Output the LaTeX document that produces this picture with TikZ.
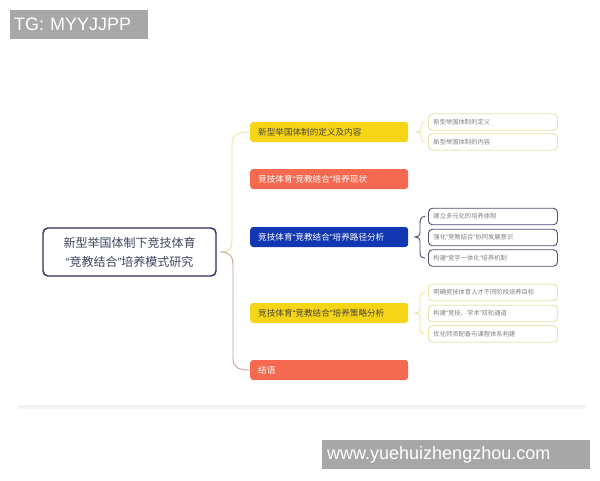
\documentclass[tikz,border=0pt]{standalone}
\usepackage{fontspec}
\setmainfont{Noto Sans CJK SC}
\newfontfamily\wmfont{Liberation Sans}
\newcommand\qopen{{\wmfont “}}
\newcommand\qclose{{\wmfont ”}}
\definecolor{cyellow}{HTML}{F6D517}
\definecolor{cred}{HTML}{F4694F}
\definecolor{cblue}{HTML}{1237B2}
\definecolor{cnavy}{HTML}{2D2F5C}
\definecolor{croottext}{HTML}{3E4460}
\definecolor{cdark}{HTML}{4A4538}
\definecolor{clightyel}{HTML}{E6E3A6}
\definecolor{csubtext}{HTML}{808080}
\definecolor{cbraceyel}{HTML}{EFE49A}
\definecolor{cbracebrown}{HTML}{C9A397}
\definecolor{cwm}{HTML}{A7A7A7}
\begin{document}
\begin{tikzpicture}[x=1pt,y=-1pt,
  rootbox/.style={draw=cnavy,line width=1.4pt,rounded corners=5pt,fill=white,
    minimum width=173pt,minimum height=48pt,align=center,text=croottext,
    font=\fontsize{12}{19}\selectfont,inner sep=0pt},
  mainbox/.style={rounded corners=3pt,minimum height=20pt,text width=142pt,
    inner xsep=8pt,inner ysep=0pt,align=left,font=\fontsize{8.6}{10}\selectfont,anchor=west},
  yelbox/.style={mainbox,fill=cyellow,text=cdark},
  redbox/.style={mainbox,fill=cred,text=white},
  bluebox/.style={mainbox,fill=cblue,text=white},
  subbox/.style={draw=clightyel,line width=0.9pt,rounded corners=4pt,fill=white,
    minimum height=16.5pt,text width=119pt,inner xsep=5pt,inner ysep=0pt,align=left,
    font=\fontsize{6.3}{7}\selectfont,text=csubtext,anchor=west},
  subnavy/.style={subbox,draw=cnavy!85},
  brace/.style={line width=0.9pt,line cap=round},
  wmbox/.style={fill=cwm,text=white,font=\wmfont\fontsize{18}{18}\selectfont,
    inner sep=0pt,anchor=north west}
]
\useasboundingbox (0,0) rectangle (600,480);
\fill[white] (0,0) rectangle (600,480);

% card bottom edge
\fill[black!3] (18,405) rectangle (585,409);
\draw[black!9,line width=0.8pt] (18,406.5) -- (585,406.5);

% watermarks
\node[wmbox,minimum width=138pt,minimum height=29pt,text width=130pt,align=left,inner xsep=4pt] (tg) at (10,10) {TG: MYYJJPP};
\node[wmbox,minimum width=268pt,minimum height=29pt,text width=258pt,align=left,inner xsep=5pt] (wm) at (322,440) {www.yuehuizhengzhou.com};

% root
\node[rootbox] (root) at (129.5,252) {新型举国体制下竞技体育\\\qopen 竞教结合\qclose 培养模式研究};

% main branches
\node[yelbox] (m1) at (250,132) {新型举国体制的定义及内容};
\node[redbox] (m2) at (250,179) {竞技体育\qopen 竞教结合\qclose 培养现状};
\node[bluebox] (m3) at (250,237) {竞技体育\qopen 竞教结合\qclose 培养路径分析};
\node[yelbox] (m4) at (250,313) {竞技体育\qopen 竞教结合\qclose 培养策略分析};
\node[redbox] (m5) at (250,370) {结语};

% main brace
\coordinate (rs) at ([xshift=4pt]root.east);
\draw[brace,cbraceyel] (rs) .. controls (230,252) and (232,248) .. (232,238)
  -- (232,144) .. controls (232,134) and (238,132) .. (m1.west);
\draw[brace,cbracebrown] (rs) .. controls (230,252) and (233,256) .. (233,266)
  -- (233,358) .. controls (233,368) and (239,370) .. (m5.west);

% sub nodes group 1
\node[subbox] (s11) at (428,122) {新型举国体制的定义};
\node[subbox] (s12) at (428,142) {新型举国体制的内容};
% group 3
\node[subnavy] (s31) at (428,216.5) {建立多元化的培养体制};
\node[subnavy] (s32) at (428,237.5) {强化\qopen 竞教结合\qclose 协同发展意识};
\node[subnavy] (s33) at (428,258) {构建\qopen 竞学一体化\qclose 培养机制};
% group 4
\node[subbox] (s41) at (428,292.5) {明确竞技体育人才不同阶段培养目标};
\node[subbox] (s42) at (428,313.5) {构建\qopen 竞技、学术\qclose 双轨通道};
\node[subbox] (s43) at (428,334) {优化师资配备与课程体系构建};

% sub braces
\draw[brace,cbraceyel] ([xshift=-3pt]s11.west) .. controls (422,122) and (421,124) .. (421,127)
  .. controls (421,131) and (419,132) .. (m1.east -| 417,0)
  .. controls (419,132) and (421,133) .. (421,137)
  .. controls (421,140) and (422,142) .. ([xshift=-3pt]s12.west);
\draw[brace,cnavy!85] ([xshift=-3pt]s31.west) .. controls (421,216.5) and (420,219) .. (420,224)
  -- (420,232) .. controls (420,236) and (418,237) .. (m3.east -| 415,0)
  .. controls (418,237) and (420,238) .. (420,242)
  -- (420,251) .. controls (420,256) and (421,258) .. ([xshift=-3pt]s33.west);
\draw[brace,cbraceyel] ([xshift=-3pt]s41.west) .. controls (421,292.5) and (420,295) .. (420,300)
  -- (420,308) .. controls (420,312) and (418,313) .. (m4.east -| 415,0)
  .. controls (418,313) and (420,314) .. (420,318)
  -- (420,327) .. controls (420,332) and (421,334) .. ([xshift=-3pt]s43.west);
\end{tikzpicture}
\end{document}
